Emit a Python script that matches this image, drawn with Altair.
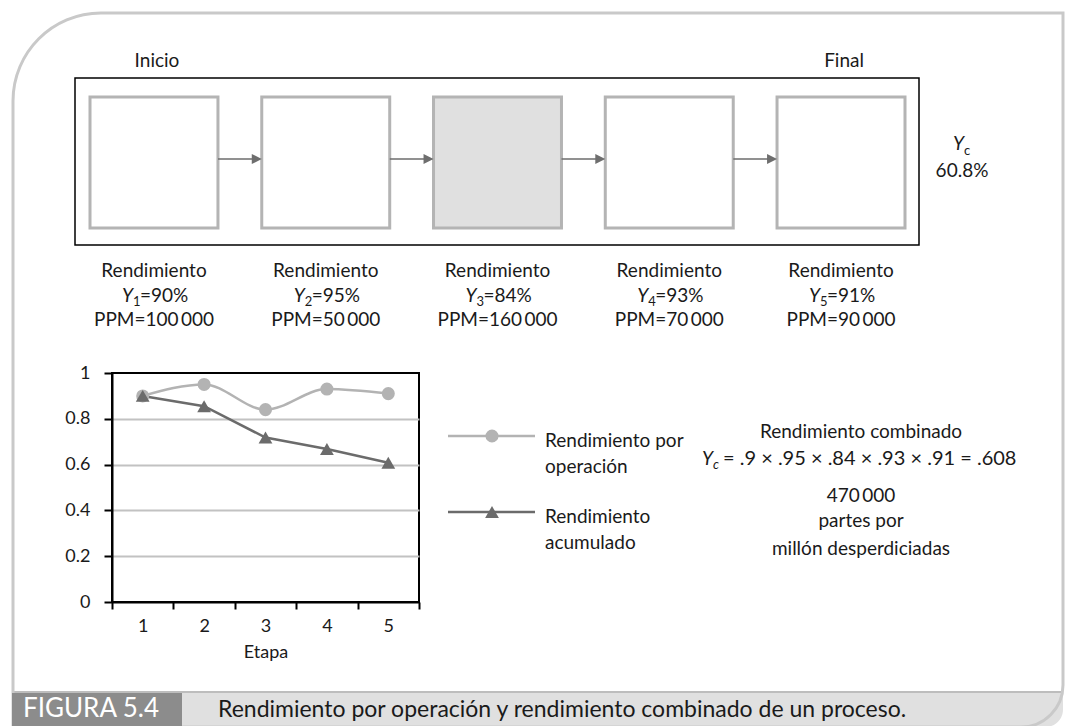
import altair as alt
import pandas as pd

# Etapas del proceso, rendimientos y defectos (partes por millón)
etapas = [1, 2, 3, 4, 5]
rend_operacion = [0.90, 0.95, 0.84, 0.93, 0.91]
rend_acumulado = [0.90, 0.855, 0.718, 0.668, 0.608]
ppm = [100000, 50000, 160000, 70000, 90000]
series = ["Rendimiento por\noperación", "Rendimiento\nacumulado"]
y_ticks = [0, 0.2, 0.4, 0.6, 0.8, 1]

FONT = "Lato"
INK = "#1a1a1a"
GRIS_OP = "#b3b3b3"
GRIS_AC = "#6b6b6b"
GRIS_CAJA = "#b4b4b4"
GRIS_FLECHA = "#6e6e6e"

# Page size and plot area of the line chart (page pixels)
W, H = 1067, 726
PX0, PY0, PW, PH = 112, 373, 307, 229

# Process boxes: left edge of the first, right edge of the last, inner padding
CAJA_X0, CAJA_X1, CAJA_PAD = 90, 905, 0.255


def px(x):
    return x - PX0


def py(y):
    return y - PY0


def miles(n):
    return f"{n:,}".replace(",", "\u2009")


def frac(v):
    return f"{v:g}".lstrip("0")


uno = alt.Data(values=[{}])

# ---------- line chart ----------
filas = []
for e, a, b in zip(etapas, rend_operacion, rend_acumulado):
    filas.append({"Etapa": e, "serie": series[0], "valor": a})
    filas.append({"Etapa": e, "serie": series[1], "valor": b})
df = pd.DataFrame(filas)

color_scale = alt.Scale(domain=series, range=[GRIS_OP, GRIS_AC])
shape_scale = alt.Scale(domain=series, range=["circle", "triangle-up"])
size_scale = alt.Scale(domain=series, range=[170, 190])

x_scale = alt.Scale(type="band", domain=etapas, paddingInner=0, paddingOuter=0)
x_axis = alt.Axis(
    title="Etapa", labelAngle=0, tickBand="extent", grid=False,
    domainColor="black", domainWidth=2, tickColor="black", tickWidth=2,
    tickSize=7, labelPadding=8, labelFontSize=18, titleFontSize=18,
    titleFontWeight="normal", titlePadding=8,
)
y_enc = alt.Y(
    "valor:Q",
    scale=alt.Scale(domain=[0, 1], nice=False),
    axis=alt.Axis(
        values=y_ticks, format="~g", title=None,
        domainColor="black", domainWidth=2, tickColor="black", tickWidth=2,
        tickSize=8, labelPadding=14, labelFontSize=18,
        grid=True, gridColor="#c2c2c2", gridWidth=2,
        gridOpacity={"condition": {"test": "datum.value <= 0 || datum.value >= 1", "value": 0}, "value": 1},
    ),
)

linea_op = alt.Chart(df).transform_filter(alt.datum.serie == series[0]).mark_line(
    strokeWidth=2.5, interpolate="monotone"
).encode(
    x=alt.X("Etapa:O", scale=x_scale, axis=x_axis),
    y=y_enc,
    color=alt.Color("serie:N", scale=color_scale, legend=None),
)
linea_ac = alt.Chart(df).transform_filter(alt.datum.serie == series[1]).mark_line(
    strokeWidth=2.5
).encode(
    x=alt.X("Etapa:O", scale=x_scale, axis=None),
    y=y_enc,
    color=alt.Color("serie:N", scale=color_scale, legend=None),
)
puntos = alt.Chart(df).mark_point(filled=True, opacity=1).encode(
    x=alt.X("Etapa:O", scale=x_scale, axis=None),
    y=y_enc,
    color=alt.Color("serie:N", scale=color_scale, legend=None),
    shape=alt.Shape("serie:N", scale=shape_scale, legend=None),
    size=alt.Size("serie:N", scale=size_scale, legend=None),
)

# ---------- legend, drawn beside the chart ----------
leyenda = []
for s, ly in zip(series, [436, 512]):
    d = pd.DataFrame({"serie": [s]})
    leyenda.append(alt.Chart(d).mark_rule(strokeWidth=2.5).encode(
        x=alt.value(px(448)), x2=alt.value(px(535)), y=alt.value(py(ly)),
        color=alt.Color("serie:N", scale=color_scale, legend=None),
    ))
    leyenda.append(alt.Chart(d).mark_point(filled=True, opacity=1).encode(
        x=alt.value(px(492)), y=alt.value(py(ly)),
        color=alt.Color("serie:N", scale=color_scale, legend=None),
        shape=alt.Shape("serie:N", scale=shape_scale, legend=None),
        size=alt.Size("serie:N", scale=size_scale, legend=None),
    ))
    leyenda.append(alt.Chart(d).mark_text(
        font=FONT, fontSize=19, align="left", baseline="alphabetic",
        lineBreak="\n", lineHeight=26, color=INK,
    ).encode(x=alt.value(px(545)), y=alt.value(py(ly + 11)), text="serie:N"))

# ---------- process diagram ----------
paso_scale = alt.Scale(type="band", domain=etapas, range=[px(CAJA_X0), px(CAJA_X1)],
                       paddingInner=CAJA_PAD, paddingOuter=0)


def x_paso(field="Etapa", **kw):
    return alt.X(f"{field}:O", scale=paso_scale, axis=None, **kw)


df_etapas = pd.DataFrame({
    "Etapa": etapas,
    "sub": [str(e) for e in etapas],
    "pct": [f"={round(v * 100)}%" for v in rend_operacion],
    "ppm": [f"PPM={miles(p)}" for p in ppm],
})
etapa_critica = etapas[rend_operacion.index(min(rend_operacion))]

marco_proceso = alt.Chart(uno).mark_rect(fillOpacity=0, stroke="black", strokeWidth=1.5).encode(
    x=alt.value(px(75)), x2=alt.value(px(919)), y=alt.value(py(78)), y2=alt.value(py(245)),
)
cajas = alt.Chart(df_etapas).mark_rect(stroke=GRIS_CAJA, strokeWidth=3).encode(
    x=x_paso(),
    y=alt.value(py(97)), y2=alt.value(py(228)),
    fill=alt.condition(f"datum.Etapa == {etapa_critica}", alt.value("#e0e0e0"), alt.value("white")),
)

# arrow = shaft + head as one symbol path in pixel units (size 4 -> scale 1),
# anchored at the centre of a box and reaching the left edge of the next one
paso = (CAJA_X1 - CAJA_X0) / (len(etapas) - CAJA_PAD)
media_caja = paso * (1 - CAJA_PAD) / 2
punta = paso - media_caja
flecha_path = (
    f"M{media_caja:.1f},-0.8L{punta - 10:.1f},-0.8L{punta - 10:.1f},-5L{punta:.1f},0"
    f"L{punta - 10:.1f},5L{punta - 10:.1f},0.8L{media_caja:.1f},0.8Z"
)
df_flechas = pd.DataFrame({"Etapa": etapas[:-1]})
flechas = alt.Chart(df_flechas).mark_point(
    shape=flecha_path, size=4, filled=True, opacity=1, color=GRIS_FLECHA
).encode(x=x_paso(), y=alt.value(py(159)))

extremos = alt.Chart(pd.DataFrame({"Etapa": [etapas[0], etapas[-1]], "txt": ["Inicio", "Final"]})).mark_text(
    font=FONT, fontSize=19, baseline="alphabetic", dx=3, color=INK
).encode(x=x_paso(), y=alt.value(py(67)), text="txt:N")

txt_base = dict(font=FONT, fontSize=19, baseline="alphabetic", color=INK)
t_rend = alt.Chart(df_etapas).mark_text(text="Rendimiento", **txt_base).encode(
    x=x_paso(), y=alt.value(py(277)))
t_y = alt.Chart(df_etapas).mark_text(text="Y", align="right", dx=-21, fontStyle="italic", **txt_base).encode(
    x=x_paso(), y=alt.value(py(302)))
t_sub = alt.Chart(df_etapas).mark_text(
    font=FONT, fontSize=13, baseline="alphabetic", color=INK, align="left", dx=-21
).encode(x=x_paso(), y=alt.value(py(306)), text="sub:N")
t_pct = alt.Chart(df_etapas).mark_text(align="left", dx=-14, **txt_base).encode(
    x=x_paso(), y=alt.value(py(302)), text="pct:N")
t_ppm = alt.Chart(df_etapas).mark_text(**txt_base).encode(
    x=x_paso(), y=alt.value(py(326)), text="ppm:N")

# combined yield beside the last box
yc_txt = f"{rend_acumulado[-1] * 100:.1f}%"
t_yc = [
    alt.Chart(uno).mark_text(text="Y", align="right", fontStyle="italic", **txt_base).encode(
        x=alt.value(px(964)), y=alt.value(py(150))),
    alt.Chart(uno).mark_text(text="c", font=FONT, fontSize=13, baseline="alphabetic", color=INK, align="left").encode(
        x=alt.value(px(964)), y=alt.value(py(155))),
    alt.Chart(uno).mark_text(text=yc_txt, **txt_base).encode(
        x=alt.value(px(962)), y=alt.value(py(177))),
]

# ---------- summary text ----------
formula = "= " + " × ".join(frac(v) for v in rend_operacion) + f" = {frac(round(rend_acumulado[-1], 3))}"
CX = 861
t_resumen = [
    alt.Chart(uno).mark_text(text="Rendimiento combinado", **txt_base).encode(
        x=alt.value(px(CX)), y=alt.value(py(438))),
    alt.Chart(uno).mark_text(text="Y", align="right", fontStyle="italic", **txt_base).encode(
        x=alt.value(px(713)), y=alt.value(py(465))),
    alt.Chart(uno).mark_text(text="c", font=FONT, fontSize=13, fontStyle="italic", baseline="alphabetic",
                             color=INK, align="left").encode(
        x=alt.value(px(713)), y=alt.value(py(469))),
    alt.Chart(uno).mark_text(text=formula, align="left", font=FONT, fontSize=20,
                             baseline="alphabetic", color=INK).encode(
        x=alt.value(px(723)), y=alt.value(py(465))),
    alt.Chart(uno).mark_text(text=miles(sum(ppm)), **txt_base).encode(
        x=alt.value(px(CX)), y=alt.value(py(502))),
    alt.Chart(uno).mark_text(text="partes por", **txt_base).encode(
        x=alt.value(px(CX)), y=alt.value(py(527))),
    alt.Chart(uno).mark_text(text="millón desperdiciadas", **txt_base).encode(
        x=alt.value(px(CX)), y=alt.value(py(555))),
]

# ---------- frame and caption band ----------
banda = alt.Chart(uno).mark_rect(fill="#e0e0e0", cornerRadiusBottomRight=42).encode(
    x=alt.value(px(13)), x2=alt.value(px(1063)), y=alt.value(py(692)), y2=alt.value(py(727)))
banda_linea = alt.Chart(uno).mark_rule(color="#bdbdbd", strokeWidth=2).encode(
    x=alt.value(px(13)), x2=alt.value(px(1063)), y=alt.value(py(692)))
marco = alt.Chart(uno).mark_rect(
    fillOpacity=0, stroke="#c9c9c9", strokeWidth=3, cornerRadiusTopLeft=88, cornerRadiusBottomRight=42
).encode(x=alt.value(px(13)), x2=alt.value(px(1063)), y=alt.value(py(13)), y2=alt.value(py(727)))
fig_caja = alt.Chart(uno).mark_rect(fill="#8c8c8c").encode(
    x=alt.value(px(12)), x2=alt.value(px(182)), y=alt.value(py(693)), y2=alt.value(py(727)))
fig_txt = alt.Chart(uno).mark_text(
    text="FIGURA 5.4", font=FONT, fontSize=26, color="white", align="left", baseline="alphabetic"
).encode(x=alt.value(px(23)), y=alt.value(py(717)))
pie_txt = alt.Chart(uno).mark_text(
    text="Rendimiento por operación y rendimiento combinado de un proceso.",
    font=FONT, fontSize=23, color=INK, align="left", baseline="alphabetic",
).encode(x=alt.value(px(218)), y=alt.value(py(717)))

chart = alt.layer(
    banda, banda_linea, marco, fig_caja, fig_txt, pie_txt,
    marco_proceso, cajas, flechas, extremos, t_rend, t_y, t_sub, t_pct, t_ppm, *t_yc,
    linea_op, linea_ac, puntos, *leyenda, *t_resumen,
).resolve_scale(x="independent").properties(
    width=PW, height=PH,
    padding={"left": PX0, "top": PY0, "right": W - PX0 - PW, "bottom": H - PY0 - PH},
    autosize="none",
    background="white",
).configure_view(
    stroke="black", strokeWidth=2
).configure_axis(
    labelFont=FONT, titleFont=FONT, labelColor=INK, titleColor=INK
)

chart.save("out.html", embed_options={"renderer": "svg", "actions": False})
